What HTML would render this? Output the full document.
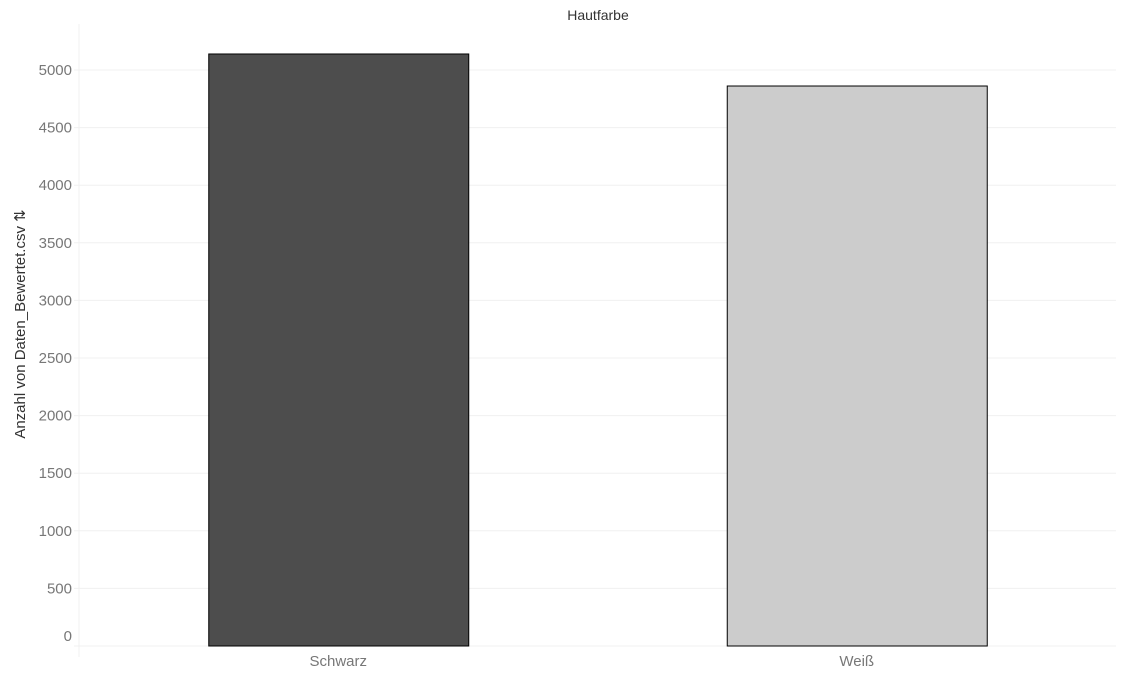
<!DOCTYPE html>
<html><head><meta charset="utf-8"><style>
body{margin:0;background:#fff;font-family:"Liberation Sans",sans-serif;}
</style></head><body>
<svg id="chart" width="1136" height="677" xmlns="http://www.w3.org/2000/svg">
<text x="598" y="20" text-anchor="middle" font-size="14" fill="#333">Hautfarbe</text>
<text transform="translate(25,324) rotate(-90)" text-anchor="middle" font-size="15" fill="#333">Anzahl von Daten_Bewertet.csv ⇅</text>
<g id="grid"></g><g id="bars"></g><g id="labels"></g>
</svg>
<script>
const categories=["Schwarz","Weiß"];
const values=[5139,4861];
const colors=["#4d4d4d","#cccccc"];
const ticks=[0,500,1000,1500,2000,2500,3000,3500,4000,4500,5000];
const NS="http://www.w3.org/2000/svg";
const y0=646,pxPer=57.6/500,xL=79,xR=1116;
const y=v=>y0-v*pxPer;
const bandW=(xR-xL)/categories.length;
const xc=i=>xL+bandW*(i+0.5);
function mk(t,a,p){const e=document.createElementNS(NS,t);for(const k in a)e.setAttribute(k,a[k]);p.appendChild(e);return e;}
const g=document.getElementById('grid'),b=document.getElementById('bars'),l=document.getElementById('labels');
mk('line',{x1:xL,x2:xL,y1:24,y2:657,stroke:'#f0f0f0'},g);
ticks.forEach(t=>{
 const ln=mk('line',{x1:74,x2:xR,y1:y(t),y2:y(t),stroke:'#f0f0f0'},g);
 
 
 const tx=mk('text',{x:72,y:y(t)+5-(t===0?10:0),'text-anchor':'end','font-size':'15',fill:'#777'},l);
 tx.textContent=t;
 
 
});
categories.forEach((c,i)=>{
 const w=260;
 const r=mk('rect',{x:xc(i)-w/2+0.5,y:y(values[i]),width:w,height:y0-y(values[i]),fill:colors[i],stroke:'#000','stroke-width':1},b);
 
 
 const tx=mk('text',{x:xc(i),y:666,'text-anchor':'middle','font-size':'15',fill:'#777'},l);
 tx.textContent=c;
 
 
});
</script>
</body></html>
